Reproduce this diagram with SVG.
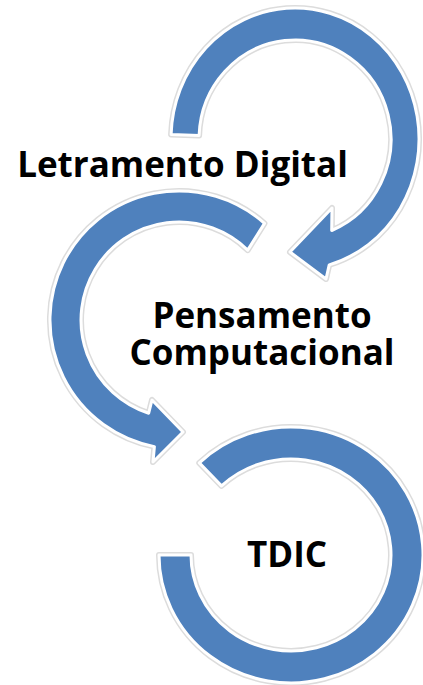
<svg xmlns="http://www.w3.org/2000/svg" width="423" height="685" viewBox="0 0 423 685">
  <style>
    .halo { fill: none; stroke: #dcdcdc; stroke-width: 6; stroke-linejoin: round; }
    .arrow { fill: #4f81bd; stroke: #ffffff; stroke-width: 3; stroke-linejoin: round; }
    .label { font-family: "Open Sans", "Liberation Sans", sans-serif; font-weight: bold; font-size: 35px; fill: #000000; text-anchor: middle; }
  </style>
  <defs>
    <path id="a1" d="M171.1,134.4 A124,131 0 1 1 329.2,264.9 L326,279 L290,252 L332,208 L331.7,230.5 A96,99 0 1 0 199.1,135.5 Z"/>
    <path id="a2" d="M264.5,223.4 A129,129 0 1 0 154.4,446.6 L153,462 L183,432 L152,400 L148.7,413.2 A98,98 0 1 1 247.7,250.1 Z"/>
    <path id="a3" d="M199.3,462.9 A132,128 0 1 1 159,555 L191,555 A100,96 0 1 0 221.5,485.9 Z"/>
  </defs>
  <rect width="423" height="685" fill="#ffffff"/>
  <g id="connectors">
    <g id="arrow1"><use href="#a1" class="halo"/><use href="#a1" class="arrow"/></g>
    <g id="arrow2"><use href="#a2" class="halo"/><use href="#a2" class="arrow"/></g>
    <g id="arrow3"><use href="#a3" class="halo"/><use href="#a3" class="arrow"/></g>
  </g>
  <g id="node-letramento">
    <text class="label" x="182.5" y="177">Letramento Digital</text>
  </g>
  <g id="node-pensamento">
    <text class="label" x="262" y="328">Pensamento<tspan x="262" dy="37">Computacional</tspan></text>
  </g>
  <g id="node-tdic">
    <text class="label" x="287" y="567">TDIC</text>
  </g>
</svg>
